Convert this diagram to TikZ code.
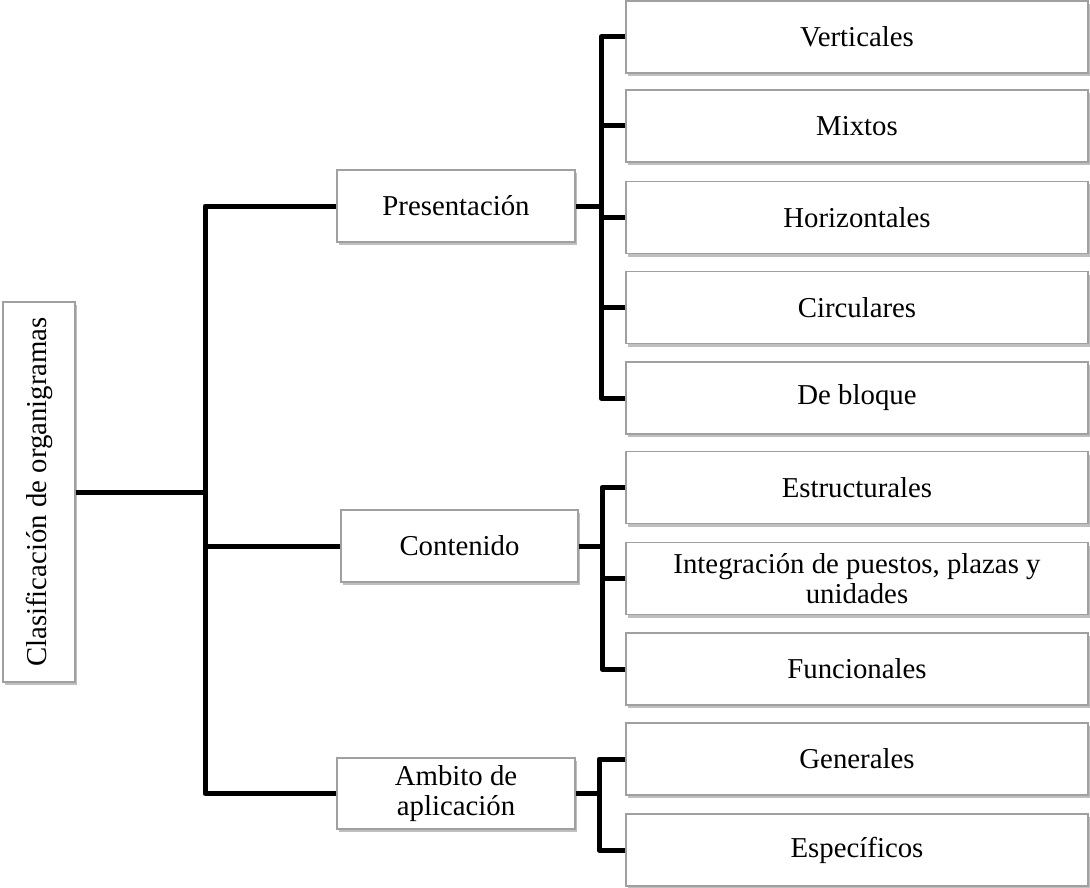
\documentclass[tikz,border=0pt]{standalone}
\usepackage{fontspec}
\setmainfont{Liberation Serif}
\usetikzlibrary{shadows}
\definecolor{boxline}{HTML}{A0A0A0}
\begin{document}
\begin{tikzpicture}[x=1pt,y=-1pt,
  box/.style={draw=boxline, line width=1.2pt, fill=white, inner sep=0pt,
    font=\fontsize{28.8}{30}\selectfont, align=center,
    drop shadow={shadow xshift=1.5pt, shadow yshift=-3pt, opacity=0.25, fill=black}},
  leaf/.style={box, minimum width=462pt, minimum height=72pt},
  mid/.style={box, minimum width=238pt, minimum height=72pt},
  conn/.style={line width=5pt, line join=round, line cap=butt}]
\useasboundingbox (0,0) rectangle (1090,888);

% root
\node[box, minimum width=72pt, minimum height=380pt] (root) at (39,492)
  {\rotatebox{90}{Clasificación de organigramas}};

% level 2
\node[mid] (pres) at (456,206) {Presentación};
\node[mid, minimum width=237pt] (cont) at (459.5,546) {Contenido};
\node[mid, minimum height=71pt] (amb) at (456,793.5) {Ambito de\\aplicación};

% level 3
\node[leaf] (vert) at (857,37) {Verticales};
\node[leaf] (mixt) at (857,126) {Mixtos};
\node[leaf] (hori) at (857,217.5) {Horizontales};
\node[leaf] (circ) at (857,307.5) {Circulares};
\node[leaf] (bloq) at (857,398) {De bloque};
\node[leaf] (estr) at (857,487.5) {Estructurales};
\node[leaf] (inte) at (857,578.5) {Integración de puestos, plazas y\\unidades};
\node[leaf] (func) at (857,669) {Funcionales};
\node[leaf] (gene) at (857,759) {Generales};
\node[leaf] (espe) at (857,850) {Específicos};

% trunk coordinates
\coordinate (t0) at (205,0);
\coordinate (t1) at (601,0);
\coordinate (t2) at (602,0);
\coordinate (t3) at (599,0);

% root to level 2
\draw[conn] (root.east) -- (root.east -| t0);
\draw[conn] (pres.west) -- (pres.west -| t0) -- (amb.west -| t0) -- (amb.west);
\draw[conn] (cont.west) -- (cont.west -| t0);

% presentacion
\draw[conn] (pres.east) -- (pres.east -| t1);
\draw[conn] (vert.west) -- (vert.west -| t1) -- (bloq.west -| t1) -- (bloq.west);
\draw[conn] (mixt.west) -- (mixt.west -| t1);
\draw[conn] (hori.west) -- (hori.west -| t1);
\draw[conn] (circ.west) -- (circ.west -| t1);

% contenido
\draw[conn] (cont.east) -- (cont.east -| t2);
\draw[conn] (estr.west) -- (estr.west -| t2) -- (func.west -| t2) -- (func.west);
\draw[conn] (inte.west) -- (inte.west -| t2);

% ambito
\draw[conn] (amb.east) -- (amb.east -| t3);
\draw[conn] (gene.west) -- (gene.west -| t3) -- (espe.west -| t3) -- (espe.west);
\end{tikzpicture}
\end{document}
